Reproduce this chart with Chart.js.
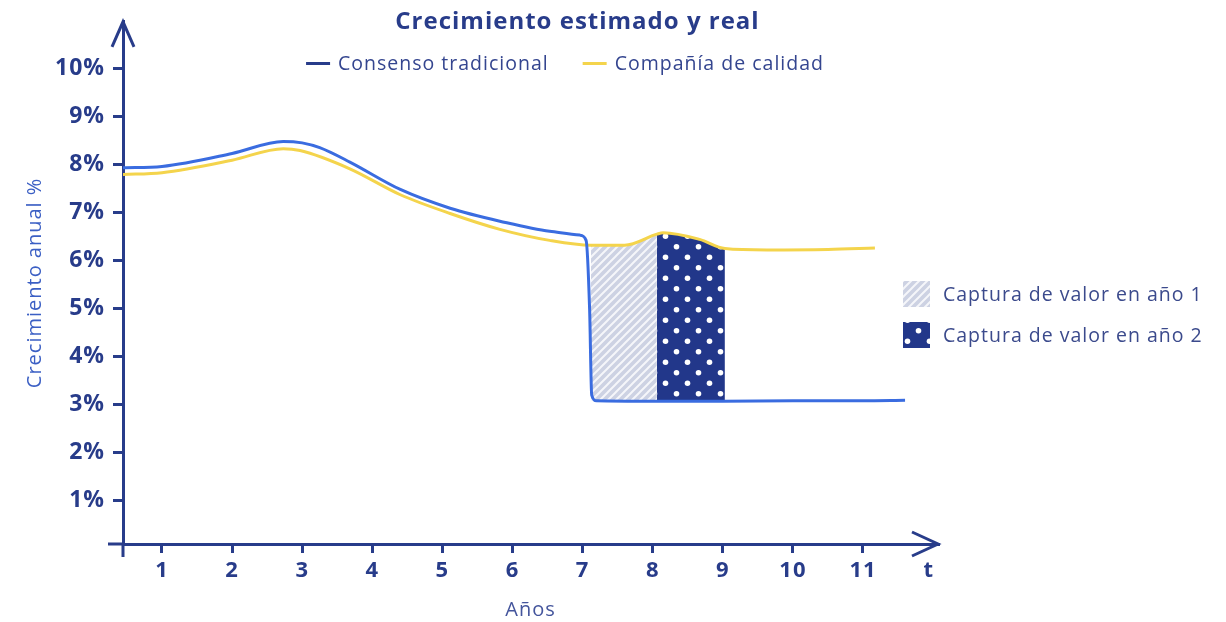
<!DOCTYPE html>
<html>
<head>
<meta charset="utf-8">
<title>Crecimiento estimado y real</title>
<script src="https://cdn.jsdelivr.net/npm/chart.js@4.4.0/dist/chart.umd.min.js"></script>
<style>
  body { margin: 0; background: #fff; }
  #wrap { width: 1226px; height: 622px; position: relative; }
</style>
</head>
<body>
<div id="wrap"><canvas id="growthChart"></canvas></div>
<script>
// Años (x) y crecimiento anual % (y)
const consensoX = [0.44, 1, 2, 2.73, 3, 3.25, 3.68, 4.4, 5.11, 5.82, 6.53, 6.96, 7.05, 7.1, 7.13, 7.2, 8, 9, 10, 11, 11.6];
const consensoY = [7.93, 7.96, 8.23, 8.48, 8.45, 8.35, 8.05, 7.48, 7.09, 6.82, 6.61, 6.53, 6.42, 5.0, 3.2, 3.08, 3.07, 3.07, 3.08, 3.08, 3.09];

const calidadX = [0.44, 1, 2, 2.73, 2.97, 3.68, 4.4, 5.11, 5.82, 6.53, 7.12, 7.6, 8.06, 8.15, 8.67, 9.03, 9.63, 10.5, 11.17];
const calidadY = [7.79, 7.83, 8.09, 8.33, 8.29, 7.91, 7.37, 6.98, 6.65, 6.42, 6.32, 6.32, 6.55, 6.58, 6.44, 6.25, 6.22, 6.23, 6.26];

// tramos de captura de valor (año 1, año 2) y su base
const captureLabels = ['Captura de valor en año 1', 'Captura de valor en año 2'];
const captureRanges = [[7.12, 8.06], [8.06, 9.03]];
const captureFloor = 3.08;

const yTickValues = [1, 2, 3, 4, 5, 6, 7, 8, 9, 10];
const xTickValues = [1, 2, 3, 4, 5, 6, 7, 8, 9, 10, 11, 11.94];
const xTickLabels = ['1', '2', '3', '4', '5', '6', '7', '8', '9', '10', '11', 't'];

const NAVY = '#283c8a';
const BLUE = '#3a6ce0';
const YELLOW = '#f4d44c';
const legendColors = [NAVY, YELLOW];

Chart.defaults.font.family = "'Open Sans', sans-serif";

function makeHatch() {
    const c = document.createElement('canvas');
    c.width = 8; c.height = 8;
    const g = c.getContext('2d');
    g.fillStyle = '#cdd2e3';
    g.fillRect(0, 0, 8, 8);
    g.strokeStyle = 'rgba(255,255,255,0.8)';
    g.lineWidth = 2;
    g.beginPath();
    g.moveTo(-1, 9); g.lineTo(9, -1);
    g.moveTo(-1, 1); g.lineTo(1, -1);
    g.moveTo(7, 9); g.lineTo(9, 7);
    g.stroke();
    return g.createPattern(c, 'repeat');
}

function makeDots() {
    const c = document.createElement('canvas');
    c.width = 22; c.height = 21;
    const g = c.getContext('2d');
    g.fillStyle = '#22378a';
    g.fillRect(0, 0, 22, 21);
    g.fillStyle = '#ffffff';
    [[5.5, 5.25], [16.5, 15.75]].forEach(([x, y]) => {
        g.beginPath();
        g.arc(x, y, 2.8, 0, Math.PI * 2);
        g.fill();
    });
    return g.createPattern(c, 'repeat');
}

const toPoints = (xs, ys) => xs.map((x, i) => ({x: x, y: ys[i]}));
const calidadPoints = toPoints(calidadX, calidadY);
const capturePatterns = [makeHatch(), makeDots()];

const captureSets = captureRanges.map(([a, b], i) => ({
    label: captureLabels[i],
    data: calidadPoints.filter(p => p.x >= a && p.x <= b),
    borderWidth: 0,
    pointRadius: 0,
    backgroundColor: capturePatterns[i],
    fill: {value: captureFloor},
    cubicInterpolationMode: 'monotone'
}));

// texto algo más espaciado, como en el original
const spacing = {
    id: 'spacing',
    beforeUpdate(chart) { chart.ctx.letterSpacing = '1px'; },
    beforeDraw(chart) { chart.ctx.letterSpacing = '1px'; }
};

// flechas y prolongaciones de los ejes
const axisArrows = {
    id: 'axisArrows',
    afterDraw(chart) {
        const {ctx, chartArea: {left, right, top, bottom}} = chart;
        ctx.save();
        ctx.strokeStyle = NAVY;
        ctx.lineWidth = 3;
        ctx.beginPath();
        ctx.moveTo(left - 15, bottom); ctx.lineTo(left, bottom);
        ctx.moveTo(left, bottom); ctx.lineTo(left, bottom + 13);
        ctx.moveTo(left - 11, top + 25); ctx.lineTo(left, top); ctx.lineTo(left + 11, top + 25);
        ctx.moveTo(right - 26, bottom - 12); ctx.lineTo(right, bottom); ctx.lineTo(right - 26, bottom + 12);
        ctx.stroke();
        ctx.restore();
    }
};

// leyenda de las dos curvas, bajo el título
const topLegend = {
    id: 'topLegend',
    afterDraw(chart) {
        const ctx = chart.ctx;
        const items = chart.data.datasets.slice(0, 2);
        ctx.save();
        ctx.font = "19.5px 'Open Sans'";
        ctx.textBaseline = 'middle';
        const widths = items.map(d => 24 + 8 + ctx.measureText(d.label).width);
        const total = widths.reduce((a, b) => a + b, 0) + 34 * (items.length - 1);
        let x = 565 - total / 2;
        items.forEach((d, i) => {
            ctx.fillStyle = legendColors[i];
            ctx.fillRect(x, 62, 24, 3);
            ctx.fillStyle = '#34458f';
            ctx.fillText(d.label, x + 32, 64);
            x += widths[i] + 34;
        });
        ctx.restore();
    }
};

// leyenda de las áreas, a la derecha
const sideLegend = {
    id: 'sideLegend',
    afterDraw(chart) {
        const {ctx, chartArea} = chart;
        const x = chartArea.right - 35;
        ctx.save();
        ctx.font = "19.5px 'Open Sans'";
        ctx.textBaseline = 'middle';
        chart.data.datasets.slice(2).forEach((d, i) => {
            const y = 281 + i * 41;
            ctx.fillStyle = d.backgroundColor;
            ctx.fillRect(x, y, 27, 26);
            ctx.fillStyle = '#3b4a8c';
            ctx.fillText(d.label, x + 40, y + 14);
        });
        ctx.restore();
    }
};

new Chart(document.getElementById('growthChart'), {
    type: 'line',
    data: {
        datasets: [
            {
                label: 'Consenso tradicional',
                data: toPoints(consensoX, consensoY),
                borderColor: BLUE,
                borderWidth: 3,
                pointRadius: 0,
                fill: false,
                cubicInterpolationMode: 'monotone'
            },
            {
                label: 'Compañía de calidad',
                data: calidadPoints,
                borderColor: YELLOW,
                borderWidth: 3,
                pointRadius: 0,
                fill: false,
                cubicInterpolationMode: 'monotone'
            },
            ...captureSets
        ]
    },
    options: {
        responsive: true,
        maintainAspectRatio: false,
        animation: false,
        layout: {padding: {left: 0, right: 71, top: 0, bottom: 0}},
        plugins: {
            title: {
                display: true,
                text: 'Crecimiento estimado y real',
                color: NAVY,
                font: {size: 24, weight: 'bold'},
                padding: {top: 6, bottom: -14.8}
            },
            legend: {display: false},
            tooltip: {enabled: false}
        },
        scales: {
            x: {
                type: 'linear',
                min: 0.444,
                max: 12.07,
                afterBuildTicks: s => { s.ticks = xTickValues.map(v => ({value: v})); },
                afterFit: s => { s.height = 78; },
                border: {display: true, color: NAVY, width: 3},
                grid: {
                    drawOnChartArea: false,
                    drawTicks: true,
                    tickLength: 9,
                    lineWidth: 3,
                    tickColor: c => (c.tick && c.tick.value > 11.5) ? 'rgba(0,0,0,0)' : NAVY
                },
                ticks: {
                    autoSkip: false,
                    maxRotation: 0,
                    padding: 5,
                    color: NAVY,
                    font: {size: 22, weight: 'bold'},
                    callback: (v, i) => xTickLabels[i]
                },
                title: {
                    display: true,
                    text: 'Años',
                    color: '#44559c',
                    font: {size: 20},
                    padding: {top: 0, bottom: 0}
                }
            },
            y: {
                type: 'linear',
                min: 0.1,
                max: 10.97,
                afterBuildTicks: s => { s.ticks = yTickValues.map(v => ({value: v})); },
                afterFit: s => { s.width = 123; },
                border: {display: true, color: NAVY, width: 3},
                grid: {
                    drawOnChartArea: false,
                    drawTicks: true,
                    tickLength: 10,
                    lineWidth: 3,
                    tickColor: NAVY
                },
                ticks: {
                    padding: 8,
                    color: NAVY,
                    font: {size: 23, weight: 'bold'},
                    callback: v => v + '%'
                },
                title: {
                    display: true,
                    text: 'Crecimiento anual %',
                    color: '#3b5fc4',
                    font: {size: 20},
                    padding: {top: 23, bottom: 0}
                }
            },
            y2: {
                type: 'linear',
                position: 'right',
                display: true,
                afterFit: s => { s.width = 217; },
                border: {display: false},
                grid: {display: false},
                ticks: {display: false}
            }
        }
    },
    plugins: [spacing, axisArrows, topLegend, sideLegend]
});
</script>
</body>
</html>
